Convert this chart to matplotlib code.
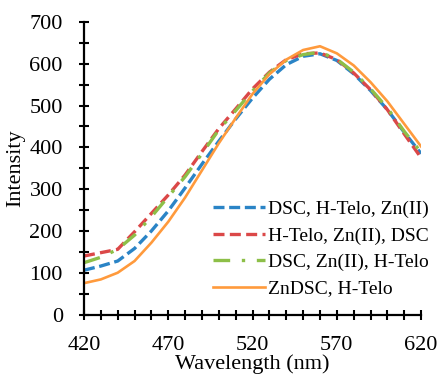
import matplotlib
matplotlib.use('Agg')
import matplotlib.pyplot as plt
from matplotlib.ticker import MultipleLocator

plt.rcParams['font.family'] = ['Liberation Serif', 'DejaVu Serif']

wavelength = [420, 430, 440, 450, 460, 470, 480, 490, 500, 510, 520,
              530, 540, 550, 560, 570, 580, 590, 600, 610, 620]
dsc_htelo_zn = [106, 116, 128, 158, 200, 248, 303, 360, 415, 468, 518,
                563, 598, 618, 624, 608, 576, 536, 490, 436, 385]
htelo_zn_dsc = [140, 148, 156, 198, 242, 286, 334, 390, 445, 492, 540,
                580, 610, 624, 626, 610, 578, 538, 490, 432, 375]
dsc_zn_htelo = [124, 137, 156, 190, 234, 282, 330, 385, 442, 488, 535,
                578, 608, 622, 628, 611, 580, 540, 494, 438, 388]
zndsc_htelo = [75, 84, 100, 128, 172, 222, 280, 345, 410, 470, 528,
               575, 610, 633, 642, 625, 596, 556, 510, 456, 402]

labels = ['DSC, H-Telo, Zn(II)', 'H-Telo, Zn(II), DSC',
          'DSC, Zn(II), H-Telo', 'ZnDSC, H-Telo']
xticks = [420, 470, 520, 570, 620]

fig = plt.figure(figsize=(4.39, 3.75), dpi=100)
ax = fig.add_axes([0.1913, 0.1613, 0.768, 0.78])

ax.plot(wavelength, dsc_htelo_zn, color='#2A84C6', lw=2.4,
        dashes=(3.3, 1.4), label=labels[0])
ax.plot(wavelength, htelo_zn_dsc, color='#DB4848', lw=2.4,
        dashes=(3.3, 1.6), label=labels[1])
ax.plot(wavelength, dsc_zn_htelo, color='#8DBF48', lw=2.4,
        dashes=(5, 3.5, 1, 3.5), label=labels[2])
ax.plot(wavelength, zndsc_htelo, color='#FF9A3C', lw=1.9,
        label=labels[3])

ax.set_xlim(420, 620)
ax.set_ylim(0, 700)
ax.set_xticks(xticks)
ax.xaxis.set_minor_locator(MultipleLocator(10))
ax.yaxis.set_major_locator(MultipleLocator(100))
ax.yaxis.set_minor_locator(MultipleLocator(50))

for s in ['top', 'right']:
    ax.spines[s].set_visible(False)
for s in ['left', 'bottom']:
    ax.spines[s].set_linewidth(1.6)

ax.tick_params(which='both', direction='inout', length=6.5, width=1.5,
               labelsize=16)
ax.tick_params(axis='x', pad=12)
ax.tick_params(axis='y', pad=12)

ax.set_xlabel('Wavelength (nm)', fontsize=16, labelpad=0)
ax.set_ylabel('Intensity', fontsize=16, labelpad=3)

ax.legend(loc='upper left', bbox_to_anchor=(0.485, 0.465),
          bbox_transform=fig.transFigure, frameon=False, fontsize=14,
          handlelength=2.7, handletextpad=0.12, labelspacing=0.45,
          borderpad=0, borderaxespad=0)

fig.savefig('out.png', dpi=100)
